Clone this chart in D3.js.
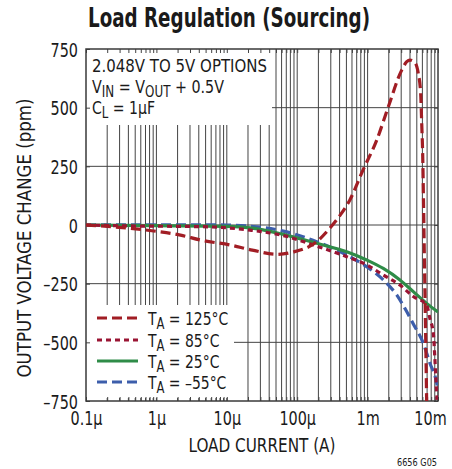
<!DOCTYPE html>
<html>
<head>
<meta charset="utf-8">
<script src="https://cdn.jsdelivr.net/npm/d3@7"></script>
<style>
  html, body { margin: 0; padding: 0; background: #fff; }
  svg { display: block; }
  text { font-family: "Liberation Sans Narrow", "Arial Narrow", "DejaVu Sans Condensed", sans-serif; fill: #1a1a1a; }
</style>
</head>
<body>
<svg id="chart" width="452" height="469"></svg>
<script>
// ---------- DATA ----------
const xTickValues = [1e-7, 1e-6, 1e-5, 1e-4, 1e-3, 1e-2];
const xTickLabels = ["0.1µ", "1µ", "10µ", "100µ", "1m", "10m"];
const yTickValues = [750, 500, 250, 0, -250, -500, -750];
const yTickLabels = ["750", "500", "250", "0", "–250", "–500", "–750"];

// [load current (A), output voltage change (ppm)]
const t125 = [[1e-7,0],[4.2e-7,-14],[1e-6,-27],[2.2e-6,-43],[4.2e-6,-64],[1.1e-5,-85],[2.3e-5,-107],
  [5.1e-5,-125],[8.8e-5,-115],[1.9e-4,-71],[2.9e-4,-14],[4.1e-4,43],[5.6e-4,107],[8.6e-4,234],
  [1.35e-3,362],[1.97e-3,504],[3.05e-3,660],[3.6e-3,696],[4.0e-3,703],[4.7e-3,692],[5.0e-3,675],
  [5.25e-3,646],[5.67e-3,561],[5.87e-3,433],[6.07e-3,291],[6.22e-3,107],[6.38e-3,-107],[6.64e-3,-426],[6.9e-3,-750]];
const t85 = [[1e-7,0],[4.2e-7,-4],[1e-6,-5],[4.2e-6,-7],[1e-5,-12],[2.14e-5,-22],[6.35e-5,-45],
  [1.89e-4,-90],[5.05e-4,-135],[9.7e-4,-170],[1.67e-3,-213],[2.88e-3,-256],[4.46e-3,-305],
  [6.9e-3,-341],[7.69e-3,-400],[8.57e-3,-460],[9.0e-3,-561],[9.4e-3,-673],[9.7e-3,-745]];
const t25 = [[1e-7,0],[1e-6,-3],[1e-5,-6],[2.14e-5,-12],[6.35e-5,-40],[1.89e-4,-78],[5.05e-4,-114],
  [9.7e-4,-149],[1.67e-3,-185],[2.88e-3,-234],[4.46e-3,-284],[6.9e-3,-334],[1e-2,-371]];
const tm55 = [[1e-7,0],[1e-6,1],[1e-5,0],[2.14e-5,-5],[6.35e-5,-26],[1.89e-4,-71],[5.05e-4,-128],
  [9.7e-4,-178],[1.67e-3,-234],[2.59e-3,-298],[3.59e-3,-369],[4.46e-3,-422],[6.18e-3,-504],
  [7.69e-3,-589],[9.6e-3,-674],[1e-2,-703]];

const seriesNames = ["125°C", "85°C", "25°C", "–55°C"];
const seriesData = [t125, t85, t25, tm55];
const seriesColors = ["#a11d24", "#9a1433", "#2f8c48", "#3d5eab"];
const seriesDash = ["10,5", "5,4", null, "10,5"];

// ---------- HELPERS ----------
function fitW(sel, w) { sel.attr("textLength", w).attr("lengthAdjust", "spacingAndGlyphs"); }
function condense(sel, f) {
  sel.each(function () {
    const n = this.getComputedTextLength();
    this.setAttribute("textLength", n * f);
    this.setAttribute("lengthAdjust", "spacingAndGlyphs");
  });
}

// ---------- LAYOUT ----------
const L = 86, T = 49, W = 352, H = 352;
const svg = d3.select("#chart");
const x = d3.scaleLog().domain([1e-7, 1e-2]).range([L, L + W]);
const y = d3.scaleLinear().domain([-750, 750]).range([T + H, T]);

const gridX = [];
for (let e = -7; e <= -3; e++) for (let k = 1; k <= 9; k++) gridX.push(k * Math.pow(10, e));
gridX.push(1e-2);

// grid
const grid = svg.append("g").attr("stroke", "#444").attr("stroke-width", 1);
grid.selectAll("line.v").data(gridX.filter(v => v > 1.01e-7 && v < 0.99e-2)).join("line")
  .attr("x1", d => x(d)).attr("x2", d => x(d)).attr("y1", T).attr("y2", T + H);
grid.selectAll("line.h").data(yTickValues.filter(v => Math.abs(v) < 750)).join("line")
  .attr("x1", L).attr("x2", L + W).attr("y1", d => y(d)).attr("y2", d => y(d));

// white boxes behind annotations
svg.append("rect").attr("x", L).attr("y", T).attr("width", 186).attr("height", 76).attr("fill", "#fff");
svg.append("rect").attr("x", L).attr("y", 305).attr("width", 148).attr("height", 93).attr("fill", "#fff");

// inside ticks on all edges
const tickLen = 4;
const axB = svg.append("g").attr("transform", `translate(0,${T + H})`)
  .call(d3.axisBottom(x).tickValues(gridX).tickSize(-tickLen).tickFormat(""));
const axT = svg.append("g").attr("transform", `translate(0,${T})`)
  .call(d3.axisTop(x).tickValues(gridX).tickSize(-tickLen).tickFormat(""));
const axL = svg.append("g").attr("transform", `translate(${L},0)`)
  .call(d3.axisLeft(y).tickValues(yTickValues).tickSize(-tickLen).tickFormat(""));
const axR = svg.append("g").attr("transform", `translate(${L + W},0)`)
  .call(d3.axisRight(y).tickValues(yTickValues).tickSize(-tickLen).tickFormat(""));
[axB, axT, axL, axR].forEach(a => { a.select(".domain").remove(); a.selectAll("line").attr("stroke", "#444"); });

// frame
svg.append("rect").attr("x", L).attr("y", T).attr("width", W).attr("height", H)
  .attr("fill", "none").attr("stroke", "#3a3a3a").attr("stroke-width", 1.5);

const FF = '"Liberation Sans Narrow", "Arial Narrow", "DejaVu Sans Condensed", sans-serif';

// tick labels
const xl = d3.axisBottom(x).tickValues(xTickValues).tickSize(0).tickPadding(0)
  .tickFormat((d, i) => xTickLabels[i]);
const gxl = svg.append("g").attr("transform", `translate(0,${T + H})`).call(xl);
gxl.select(".domain").remove();
gxl.selectAll("text").attr("dy", null).attr("y", 24).attr("font-size", 20)
  .attr("x", (d, i) => i === xTickValues.length - 1 ? -8 : 0)
  .style("font-family", FF).attr("fill", "#1a1a1a");
condense(gxl.selectAll("text"), 0.8);

const yl = d3.axisLeft(y).tickValues(yTickValues).tickSize(0).tickPadding(0)
  .tickFormat((d, i) => yTickLabels[i]);
const gyl = svg.append("g").attr("transform", `translate(${L - 8},0)`).call(yl);
gyl.select(".domain").remove();
gyl.selectAll("text").attr("dy", "0.36em").attr("font-size", 20)
  .style("font-family", FF).attr("fill", "#1a1a1a");
condense(gyl.selectAll("text"), 0.8);

// curves
const line = d3.line().x(d => x(d[0])).y(d => y(d[1])).curve(d3.curveMonotoneX);
svg.append("clipPath").attr("id", "pc").append("rect")
  .attr("x", L).attr("y", T - 1).attr("width", W).attr("height", H + 2);
const curves = svg.append("g").attr("clip-path", "url(#pc)");
[3, 2, 1, 0].forEach(i => {
  curves.append("path").attr("d", line(seriesData[i])).attr("fill", "none")
    .attr("stroke", seriesColors[i]).attr("stroke-width", 3.2)
    .attr("stroke-dasharray", seriesDash[i]);
});

// title
fitW(svg.append("text").attr("x", 229).attr("y", 27).attr("text-anchor", "middle")
  .attr("font-size", 26).attr("font-weight", "bold").text("Load Regulation (Sourcing)"), 282);

// axis titles
fitW(svg.append("text").attr("x", 262).attr("y", 452).attr("text-anchor", "middle")
  .attr("font-size", 19).text("LOAD CURRENT (A)"), 147);
fitW(svg.append("text").attr("transform", "translate(31,238) rotate(-90)").attr("text-anchor", "middle")
  .attr("font-size", 19).text("OUTPUT VOLTAGE CHANGE (ppm)"), 279);

// annotation box text
const ann = svg.append("g").attr("font-size", 18);
fitW(ann.append("text").attr("x", 92).attr("y", 72).text("2.048V TO 5V OPTIONS"), 175);
const a2 = ann.append("text").attr("x", 92).attr("y", 93);
a2.append("tspan").text("V");
a2.append("tspan").attr("dy", 4).attr("font-size", 15).text("IN");
a2.append("tspan").attr("dy", -4).text(" = V");
a2.append("tspan").attr("dy", 4).attr("font-size", 15).text("OUT");
a2.append("tspan").attr("dy", -4).text(" + 0.5V");
fitW(a2, 132);
const a3 = ann.append("text").attr("x", 92).attr("y", 114);
a3.append("tspan").text("C");
a3.append("tspan").attr("dy", 4).attr("font-size", 15).text("L");
a3.append("tspan").attr("dy", -4).text(" = 1µF");
fitW(a3, 63);

// legend
const legY = [318, 340, 361, 382];
const leg = svg.append("g");
seriesNames.forEach((name, i) => {
  leg.append("line").attr("x1", 97).attr("x2", 138).attr("y1", legY[i]).attr("y2", legY[i])
    .attr("stroke", seriesColors[i]).attr("stroke-width", 3.2).attr("stroke-dasharray", seriesDash[i]);
  const t = leg.append("text").attr("x", 148).attr("y", legY[i] + 7).attr("font-size", 18);
  t.append("tspan").text("T");
  t.append("tspan").attr("dy", 4).attr("font-size", 15).text("A");
  t.append("tspan").attr("dy", -4).text(" = " + name);
  condense(t, 0.86);
});

// figure code
fitW(svg.append("text").attr("x", 437).attr("y", 466).attr("text-anchor", "end")
  .attr("font-size", 11).text("6656 G05"), 40);
</script>
</body>
</html>
